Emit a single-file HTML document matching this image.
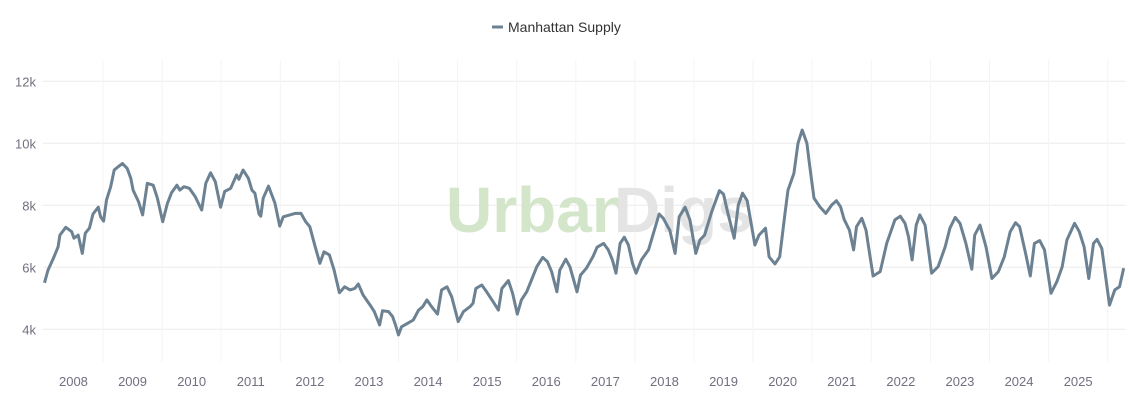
<!DOCTYPE html>
<html><head><meta charset="utf-8"><style>
html,body{margin:0;padding:0;background:#fff;}
svg{display:block;font-family:"Liberation Sans",sans-serif;}
</style></head><body>
<svg id="chart" width="1129" height="400" viewBox="0 0 1129 400">
<g id="legend">
<line x1="492" y1="27" x2="503" y2="27" stroke="#6c8191" stroke-width="3"/>
<text x="508" y="32" font-size="14" fill="#333">Manhattan Supply</text>
</g>
<g id="grid"></g>
<g>
<text x="446" y="232" font-size="64" font-weight="bold" fill="#d3e6c9">Urban</text>
<text x="614" y="232" font-size="64" font-weight="bold" fill="#e4e4e4">Digs</text>
</g>
<g id="axes"></g>
<path id="line" fill="none" stroke="#6c8191" stroke-width="3" stroke-linejoin="round"/>
</svg>
<script>
const dates=[2008.01,2008.07,2008.16,2008.24,2008.27,2008.37,2008.47,2008.51,2008.58,2008.65,2008.70,2008.77,2008.83,2008.92,2008.96,2009.01,2009.06,2009.13,2009.19,2009.26,2009.33,2009.41,2009.47,2009.51,2009.60,2009.67,2009.75,2009.85,2009.92,2010.01,2010.09,2010.16,2010.25,2010.30,2010.37,2010.46,2010.56,2010.67,2010.74,2010.82,2010.90,2010.99,2011.06,2011.16,2011.26,2011.30,2011.37,2011.46,2011.52,2011.57,2011.64,2011.67,2011.71,2011.80,2011.91,2011.99,2012.05,2012.16,2012.25,2012.35,2012.43,2012.50,2012.59,2012.67,2012.74,2012.83,2012.91,2013.00,2013.09,2013.18,2013.26,2013.32,2013.40,2013.52,2013.59,2013.68,2013.73,2013.83,2013.90,2013.95,2014.00,2014.05,2014.15,2014.25,2014.34,2014.41,2014.48,2014.56,2014.66,2014.73,2014.82,2014.90,2015.01,2015.10,2015.21,2015.26,2015.31,2015.41,2015.49,2015.60,2015.69,2015.75,2015.86,2015.93,2016.01,2016.08,2016.17,2016.25,2016.34,2016.44,2016.52,2016.59,2016.68,2016.73,2016.83,2016.90,2017.02,2017.08,2017.18,2017.29,2017.36,2017.47,2017.55,2017.62,2017.68,2017.75,2017.82,2017.89,2017.96,2018.02,2018.11,2018.23,2018.31,2018.41,2018.48,2018.57,2018.59,2018.68,2018.75,2018.85,2018.93,2019.03,2019.10,2019.18,2019.30,2019.43,2019.50,2019.56,2019.68,2019.75,2019.82,2019.90,2020.03,2020.10,2020.21,2020.27,2020.37,2020.45,2020.54,2020.59,2020.69,2020.76,2020.83,2020.91,2020.96,2021.03,2021.13,2021.23,2021.33,2021.41,2021.48,2021.54,2021.63,2021.70,2021.75,2021.84,2021.91,2021.98,2022.03,2022.15,2022.26,2022.40,2022.49,2022.57,2022.63,2022.69,2022.76,2022.82,2022.91,2023.02,2023.13,2023.25,2023.33,2023.42,2023.50,2023.60,2023.70,2023.75,2023.84,2023.94,2024.04,2024.15,2024.25,2024.35,2024.44,2024.51,2024.61,2024.69,2024.76,2024.85,2024.93,2025.04,2025.14,2025.23,2025.31,2025.44,2025.52,2025.60,2025.68,2025.76,2025.82,2025.90,2026.03,2026.12,2026.20,2026.27];
const supply=[5500,5910,6290,6660,7040,7290,7150,6940,7040,6450,7100,7260,7720,7940,7630,7490,8170,8600,9140,9250,9350,9190,8870,8490,8120,7690,8710,8650,8230,7470,8060,8410,8650,8490,8600,8550,8280,7850,8710,9050,8760,7940,8450,8550,8980,8840,9140,8870,8490,8390,7720,7650,8230,8620,8060,7330,7630,7690,7740,7740,7470,7310,6660,6130,6500,6400,5910,5180,5370,5270,5320,5460,5110,4780,4570,4140,4600,4570,4410,4140,3820,4080,4190,4300,4620,4730,4950,4730,4490,5270,5370,5050,4250,4570,4730,4840,5320,5430,5210,4890,4620,5320,5570,5160,4490,4950,5210,5590,6020,6320,6180,5860,5210,5910,6260,6020,5210,5750,5970,6340,6650,6770,6560,6240,5810,6770,6970,6720,6130,5810,6240,6560,7070,7720,7580,7260,7200,6450,7630,7940,7530,6450,6880,7040,7790,8470,8360,7850,6940,8010,8390,8150,6720,7040,7260,6340,6110,6340,7740,8490,9030,10000,10430,10000,9250,8230,7950,7740,8010,8150,7950,7550,7200,6560,7310,7580,7200,6340,5720,5860,6770,7530,7650,7420,6990,6240,7360,7690,7360,5810,6020,6660,7260,7610,7420,6770,5940,7040,7360,6660,5640,5860,6340,7150,7440,7310,6450,5720,6770,6860,6560,5160,5540,6020,6880,7420,7150,6660,5640,6770,6900,6610,4780,5270,5370,5970];
const yTicks=[4000,6000,8000,10000,12000];
const yTickLabels=["4k","6k","8k","10k","12k"];
const xYears=[2008,2009,2010,2011,2012,2013,2014,2015,2016,2017,2018,2019,2020,2021,2022,2023,2024,2025];

const X0=43.9, YW=59.1, L=43, R=1125;
const xs=d=>X0+(d-2008)*YW;
const ys=v=>329.3-(v-4000)*0.031;
const NS="http://www.w3.org/2000/svg";
const grid=document.getElementById('grid'), axes=document.getElementById('axes');
function mk(tag,attrs,parent){const e=document.createElementNS(NS,tag);for(const k in attrs)e.setAttribute(k,attrs[k]);parent.appendChild(e);return e;}
yTicks.forEach((v,i)=>{
  const g=mk('line',{x1:L,x2:R,y1:ys(v),y2:ys(v),stroke:'#ebebeb','stroke-width':1},grid);
  
  
  const t=mk('text',{x:36,y:ys(v)+5,'text-anchor':'end','font-size':13,fill:'#707080'},axes);
  t.textContent=yTickLabels[i];
  
  
});
xYears.forEach(yr=>{
  const g=mk('line',{x1:xs(yr+1),x2:xs(yr+1),y1:60,y2:362,stroke:'#f4f4f4','stroke-width':1},grid);
  
  
  const t=mk('text',{x:xs(yr+0.5),y:386,'text-anchor':'middle','font-size':13,fill:'#707080'},axes);
  t.textContent=String(yr);
  
  
});
let d='';
dates.forEach((dt,i)=>{d+=(i?'L':'M')+xs(dt).toFixed(1)+','+ys(supply[i]).toFixed(1);});
document.getElementById('line').setAttribute('d',d);
</script>
</body></html>
